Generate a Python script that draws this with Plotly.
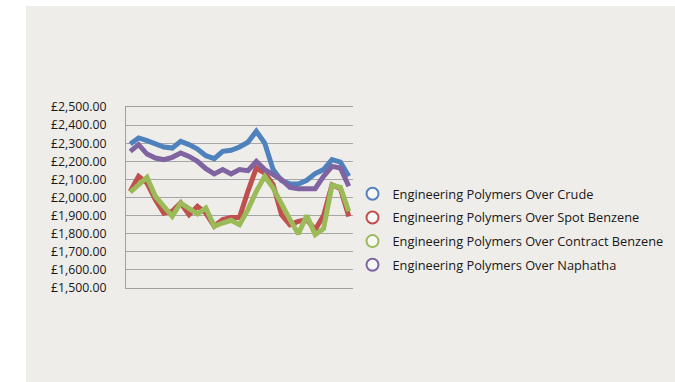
import plotly.graph_objects as go

points = list(range(27))
crude = [2296, 2329, 2314, 2296, 2279, 2273, 2310, 2292, 2268, 2231, 2215, 2255, 2261, 2279,
         2305, 2366, 2301, 2154, 2093, 2075, 2075, 2095, 2132, 2154, 2209, 2196, 2117]
spot = [2034, 2117, 2080, 1988, 1914, 1924, 1970, 1905, 1951, 1914, 1841, 1878, 1890, 1890,
        2034, 2163, 2135, 2071, 1905, 1850, 1868, 1878, 1822, 1900, 2070, 2050, 1895]
contract = [2029, 2072, 2111, 2006, 1951, 1896, 1970, 1942, 1909, 1942, 1841, 1859, 1874, 1850,
            1933, 2034, 2117, 2052, 1960, 1878, 1798, 1901, 1795, 1828, 2067, 2056, 1924]
naphatha = [2255, 2292, 2240, 2218, 2209, 2222, 2246, 2227, 2200, 2159, 2130, 2154, 2130, 2154,
            2148, 2200, 2154, 2126, 2099, 2056, 2049, 2049, 2049, 2117, 2172, 2163, 2062]

names = ["Engineering Polymers Over Crude", "Engineering Polymers Over Spot Benzene",
         "Engineering Polymers Over Contract Benzene", "Engineering Polymers Over Naphatha"]
colors = ["#4F81BD", "#C0504D", "#9BBB59", "#8064A2"]
series = [crude, spot, contract, naphatha]

BG = "#EEEDE9"
FONT = "Open Sans"
TXT = "#1A1718"

fig = go.Figure()
for i, (nm, col, ys) in enumerate(zip(names, colors, series)):
    fig.add_trace(go.Scatter(x=points, y=ys, mode="lines", name=nm,
                             line=dict(color=col, width=5),
                             showlegend=False, hoverinfo="skip"))
for i, (nm, col) in enumerate(zip(names, colors)):
    fig.add_trace(go.Scatter(x=[None], y=[None], mode="markers", name=nm,
                             marker=dict(symbol="circle", size=9, color="#F7F7F5",
                                         line=dict(color=col, width=5)),
                             legendgroup=f"g{i}", showlegend=True))

L, R, T, B = 126, 353, 107, 288
W, H = 675, 382
pw, ph = R - L, B - T

fig.add_shape(type="rect", xref="paper", yref="paper", layer="below",
              x0=(26 - L) / pw, x1=(W - L) / pw + 0.05,
              y0=-(H - B) / ph - 0.05, y1=(B - 6) / ph,
              fillcolor=BG, line=dict(width=0))

fig.update_layout(
    width=W, height=H,
    margin=dict(l=L, r=W - R, t=T, b=H - B, autoexpand=False),
    paper_bgcolor="white", plot_bgcolor=BG,
    font=dict(family=FONT, size=12, color=TXT),
    showlegend=True,
    legend=dict(x=(352.5 - L) / pw, xanchor="left", y=(B - 179) / ph, yanchor="top",
                bgcolor="rgba(0,0,0,0)", font=dict(family=FONT, size=12.8, color=TXT),
                traceorder="grouped", tracegroupgap=4, itemsizing="constant"),
    xaxis=dict(range=[-0.5, 26.5], showgrid=False, showticklabels=False, zeroline=False,
               showline=True, mirror=True, linecolor="#A0A0A0", linewidth=1, ticks=""),
    yaxis=dict(range=[1500, 2500], dtick=100, tick0=1500, showgrid=True,
               gridcolor="#A6A6A6", gridwidth=1, zeroline=False,
               showline=True, linecolor="#A0A0A0", linewidth=1,
               tickprefix="£", tickformat=",.2f", ticks="",
               ticklabelstandoff=16, tickfont=dict(family=FONT, size=12.3, color=TXT)),
)
fig.write_html("out.html")
